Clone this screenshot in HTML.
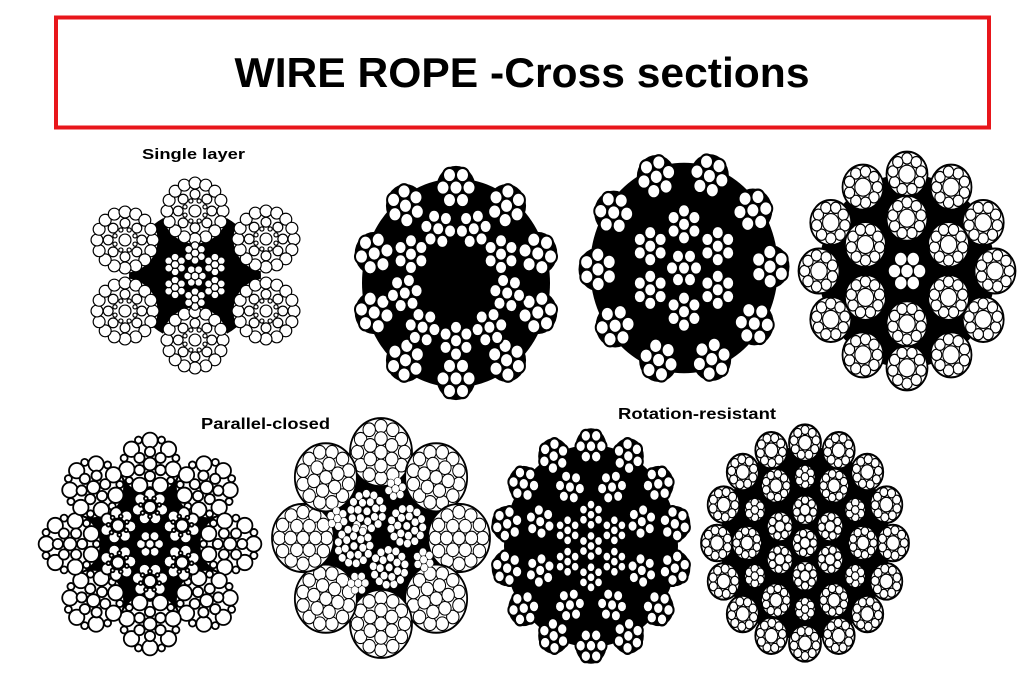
<!DOCTYPE html>
<html><head><meta charset="utf-8">
<style>html,body{margin:0;padding:0;background:#fff;}svg{display:block}</style>
</head><body>
<svg id="s" width="1027" height="677" viewBox="0 0 1027 677" xmlns="http://www.w3.org/2000/svg">
<rect x="0" y="0" width="1027" height="677" fill="#fff"/>
<rect x="56" y="17.5" width="933" height="110" fill="none" stroke="#e8161b" stroke-width="4"/>
<text x="522" y="87" text-anchor="middle" font-family="Liberation Sans, Arial, sans-serif" font-weight="bold" font-size="42" textLength="575" lengthAdjust="spacingAndGlyphs" fill="#000">WIRE ROPE -Cross sections</text>
<text x="142" y="159" font-family="Liberation Sans, Arial, sans-serif" font-weight="bold" font-size="15" textLength="103" lengthAdjust="spacingAndGlyphs" fill="#000">Single layer</text>
<text x="201" y="429" font-family="Liberation Sans, Arial, sans-serif" font-weight="bold" font-size="16" textLength="129" lengthAdjust="spacingAndGlyphs" fill="#000">Parallel-closed</text>
<text x="618" y="419" font-family="Liberation Sans, Arial, sans-serif" font-weight="bold" font-size="16" textLength="158" lengthAdjust="spacingAndGlyphs" fill="#000">Rotation-resistant</text>
<g id="ropes"></g>
</svg>
<script>
(function(){
var NS='http://www.w3.org/2000/svg',R=document.getElementById('ropes'),PI=Math.PI;
function E(t,a,p){var e=document.createElementNS(NS,t);for(var k in a)e.setAttribute(k,a[k]);p.appendChild(e);return e;}
function f(v){return v.toFixed(2);}
function rope(cx,cy,sx,sy,sw){return E('g',{transform:'translate('+cx+','+cy+') scale('+sx+','+sy+')',fill:'#fff',stroke:'#000','stroke-width':sw},R);}
function disk(g,x,y,r){E('circle',{cx:x,cy:y,r:r,fill:'#000',stroke:'none'},g);}
function strand(g,x,y,r,spec,ph,base){
  if(base){var a={cx:f(x),cy:f(y),r:f(r*(base.k||0.93)),fill:base.f,stroke:base.s||'none'};if(base.w)a['stroke-width']=base.w;E('circle',a,g);}
  for(var i=0;i<spec.length;i++){var s=spec[i],n=s[0],rad=s[1]*r,w=s[2]*r,p=(ph||0)+(s[3]||0);
    for(var j=0;j<n;j++){var t=p+2*PI*j/n;
      E('circle',{cx:f(x+rad*Math.cos(t)),cy:f(y+rad*Math.sin(t)),r:f(w)},g);}}
}
function ringS(g,n,d,r,spec,ph,base,rot){for(var j=0;j<n;j++){var a=ph+2*PI*j/n;strand(g,d*Math.cos(a),d*Math.sin(a),r,spec,a+(rot||0),base);}}
function at(g,list,d,r,spec,base){list.forEach(function(deg){var a=deg*PI/180;strand(g,d*Math.cos(a),d*Math.sin(a),r,spec,a,base);});}
var W={f:'#fff'},B={f:'#000',k:1},C={f:'#fff',s:'#000',k:1,w:1.8};
var S7=[[6,.667,.333],[1,0,.333]];
var SC=[[9,.7,.25],[1,0,.4]];

/* Rope 1 - single layer */
var g=rope(0,0,1,1,1.2);
disk(g,195,276,66);
var S1=[[16,.8,.17],[8,.48,.14],[8,.31,.06,PI/8],[1,0,.17]];
[[195,211],[195,340],[125,240],[125,311],[266,239],[266,311]].forEach(function(p){strand(g,p[0],p[1],35,S1,0,W);});
strand(g,195,276,11.5,[[6,.64,.34],[1,0,.34]],0,null);
for(var j=0;j<6;j++){var a=-PI/2+j*PI/3;strand(g,195+23*Math.cos(a),276+23*Math.sin(a),11.5,[[6,.64,.34],[1,0,.34]],a,null);}

/* Rope 2 */
g=rope(456,283,1,1.11,2);
disk(g,0,0,94);
ringS(g,10,86,19.5,S7,-PI/2,B,PI/6);
ringS(g,9,52,18,S7,-PI/2+PI/9,null,0);

/* Rope 3 */
g=rope(684,268,1,1.12,2);
disk(g,0,0,94);
ringS(g,10,86,19.5,S7,-PI/2+0.3,B,PI/6);
strand(g,0,0,18,S7,0,null);
ringS(g,6,39,18,S7,-PI/2,null,0);

/* Rope 4 */
g=rope(907,271,1,1.1,1.1);
disk(g,0,0,88);
ringS(g,12,88,20.5,SC,-PI/2,C,0);
ringS(g,6,48,20.5,SC,-PI/2,C,0);
strand(g,0,0,19,[[6,.66,.33],[1,0,.33]],0,{f:'#000',k:1});

/* Rope 5 - parallel closed */
g=rope(150,544,1,1,1.8);
disk(g,0,0,82);
var SW=[[7,.74,.24],[7,.83,.11,PI/7],[6,.38,.16],[1,0,.2]];
ringS(g,8,80,32,SW,-PI/2,W,0);
strand(g,0,0,15,[[6,.6,.32],[1,0,.3]],0,null);
ringS(g,6,37,19,[[7,.66,.3],[7,.5,.1,PI/7],[1,0,.32]],-PI/2,null,0);

/* Rope 6 */
g=rope(381,538,1,1.1,1.0);
disk(g,0,0,80);
ringS(g,8,78,31,[[12,.76,.2],[6,.4,.2],[1,0,.2]],-PI/2,C,0);
var g6=E('g',{'stroke-width':0.5},g);
at(g6,[-72,25,119,-158],47,11,[[6,.64,.34],[1,0,.34]],null);
at(g6,[-120,-23,165,73],28,20,[[13,.8,.19],[7,.45,.19],[1,0,.19]],null);

/* Rope 7 - rotation resistant */
g=rope(591,546,1,1.16,2);
disk(g,0,0,87);
ringS(g,14,86,15.5,S7,-PI/2,B,PI/6);
ringS(g,8,55,15,S7,-PI/2+PI/8,null,0);
strand(g,0,0,13,S7,PI/2,null);
ringS(g,6,27,13,S7,-PI/2,null,0);

/* Rope 8 */
g=rope(805,543,1,1.14,1.1);
disk(g,0,0,85);
ringS(g,16,88,16,SC,-PI/2,C,0);
for(var k=0;k<12;k++){var b=-PI/2+k*PI/6,x=58*Math.cos(b),y=58*Math.sin(b);
  if(k%2===0){strand(g,x,y,10.5,[[6,.62,.36],[1,0,.36]],b,C);}else{strand(g,x,y,15,SC,b,C);}}
ringS(g,6,29,13,[[7,.66,.28],[1,0,.38]],-PI/2,C,0);
strand(g,0,0,13,[[7,.66,.28],[1,0,.38]],0,C);
})();
</script>
</body></html>
